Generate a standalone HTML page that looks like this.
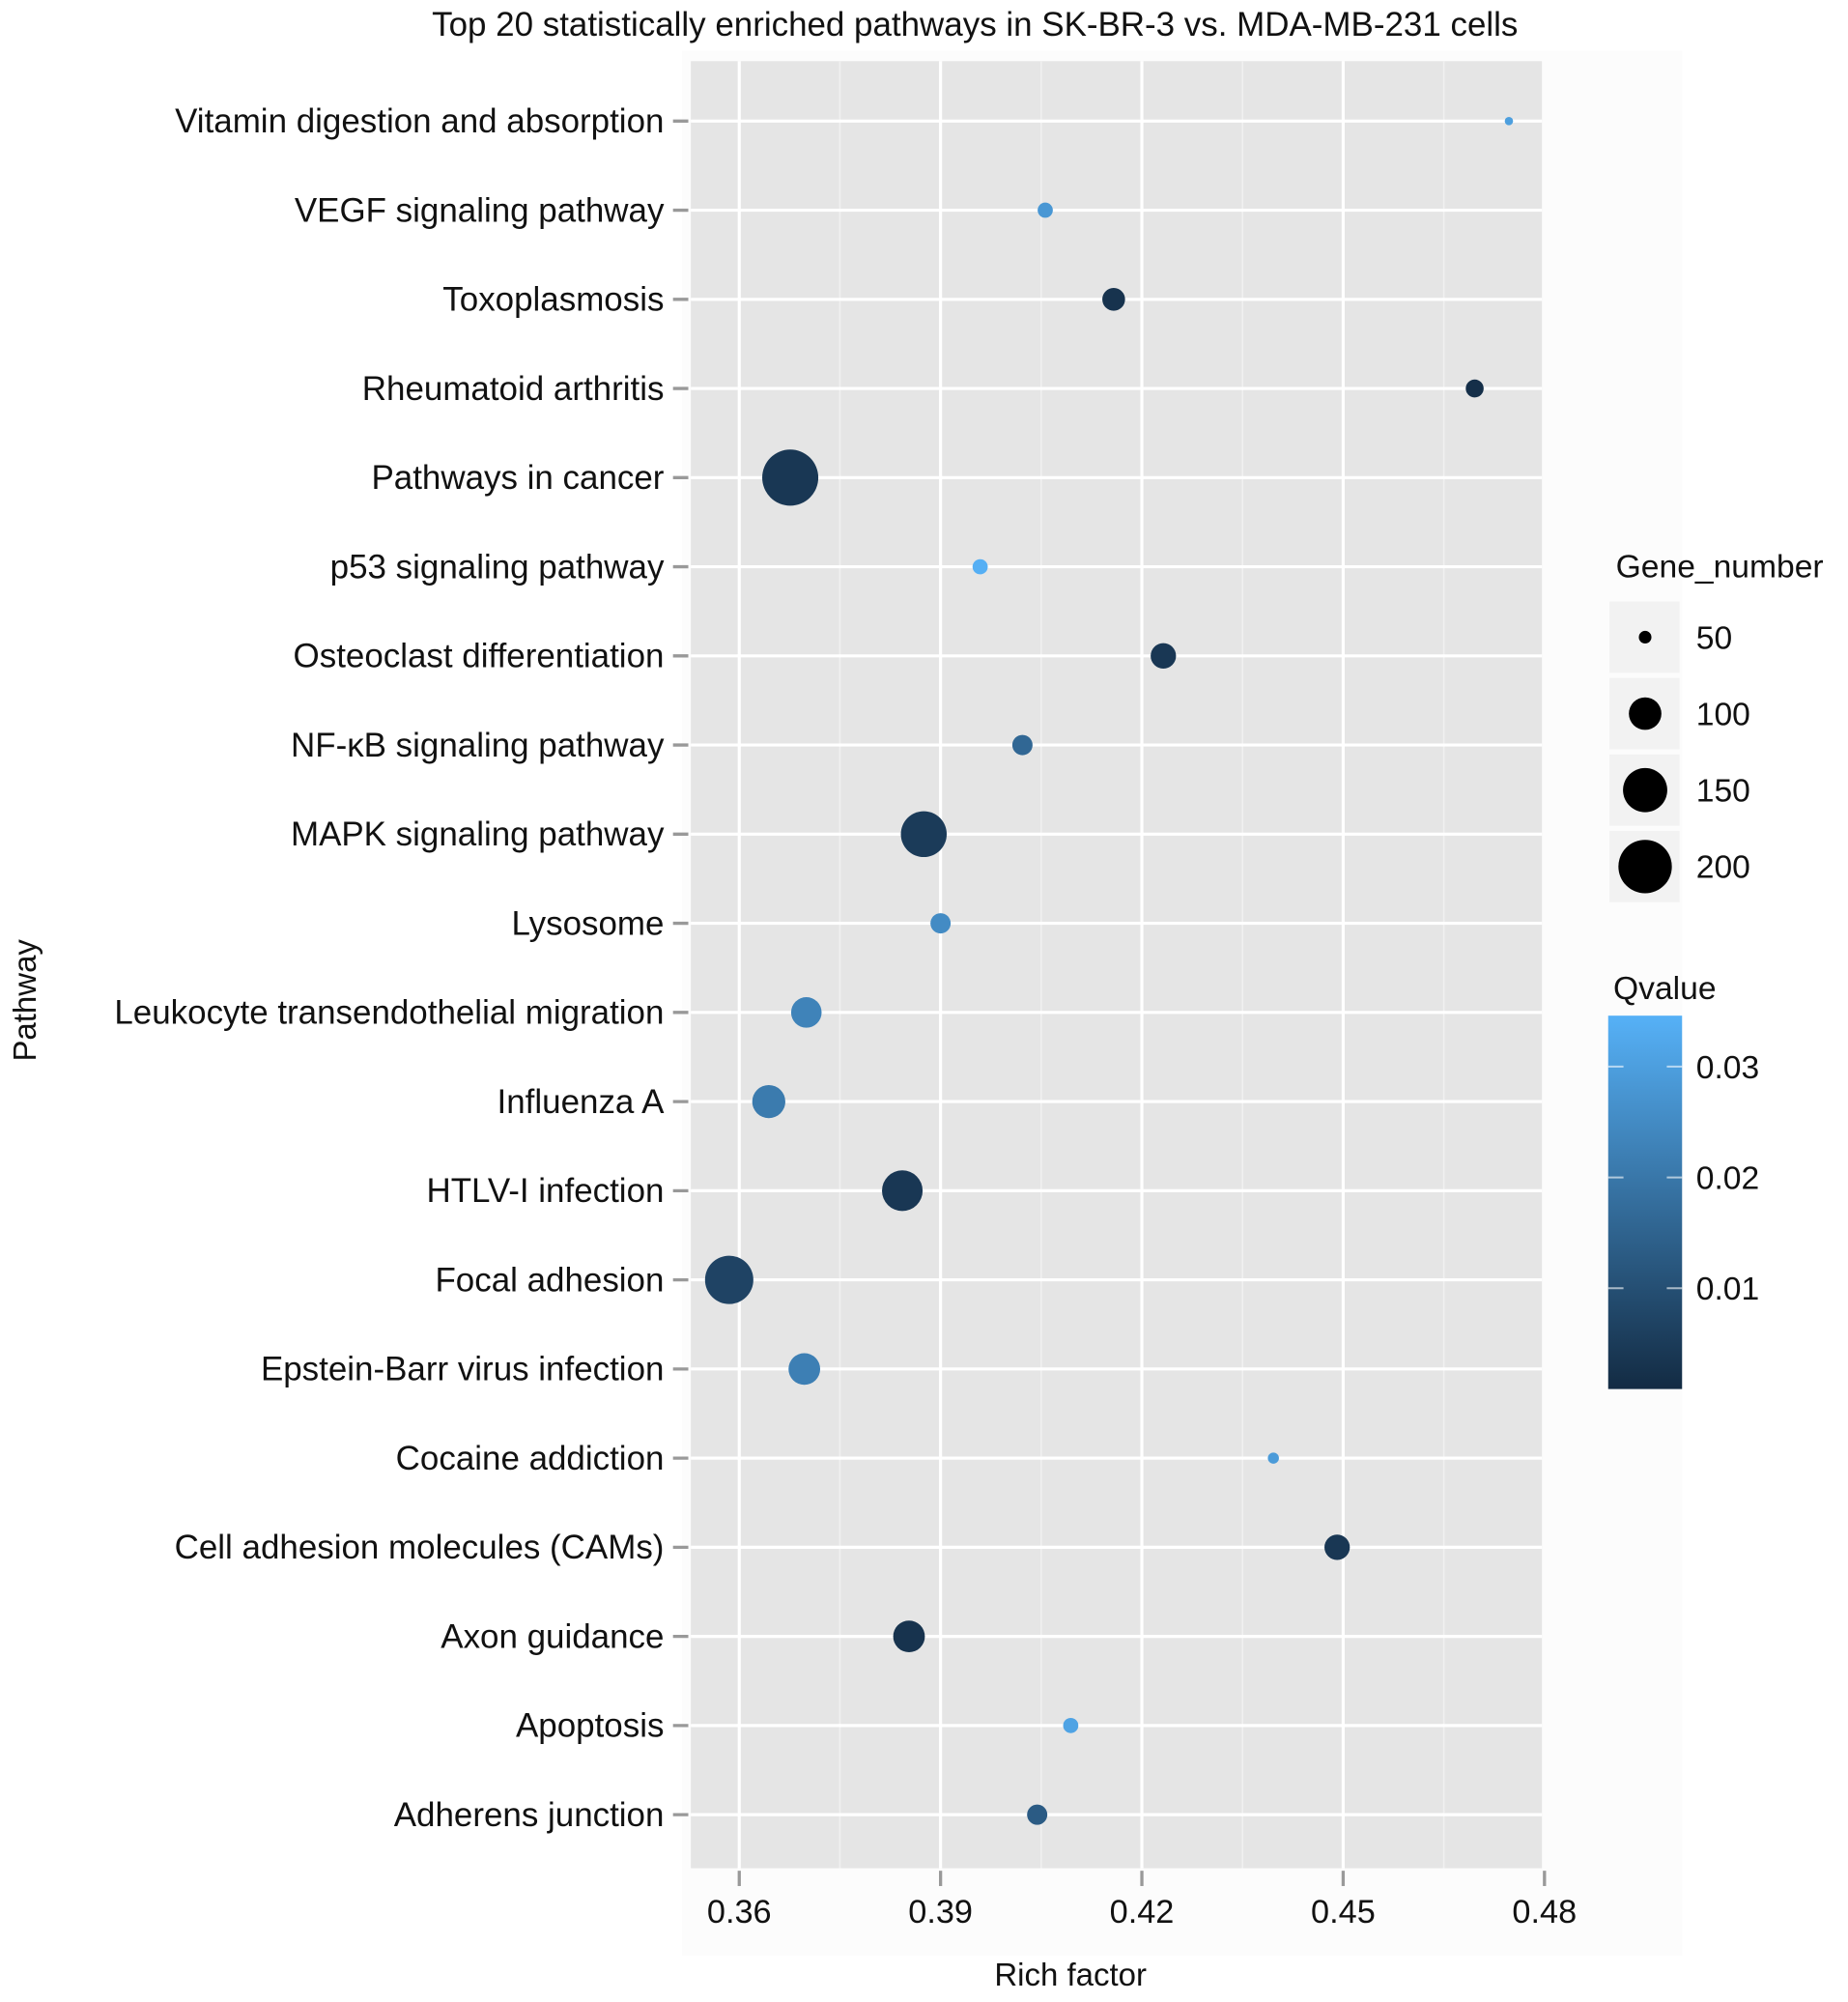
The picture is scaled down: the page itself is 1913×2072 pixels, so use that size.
<!DOCTYPE html>
<html><head><meta charset="utf-8"><style>
html,body{margin:0;padding:0;background:#fff;}
svg{display:block;font-family:"Liberation Sans",Arial,sans-serif;}
</style></head><body>
<svg id="chart" width="1913" height="2072" viewBox="0 0 1450 1571" xmlns="http://www.w3.org/2000/svg">
<rect x="0" y="0" width="1450" height="1571" fill="#ffffff"/>
<rect x="535" y="40" width="785" height="1495" fill="#fcfcfc"/>
<text x="765" y="28" text-anchor="middle" font-size="26.5" fill="#111">Top 20 statistically enriched pathways in SK-BR-3 vs. MDA-MB-231 cells</text>
<rect x="542" y="48" width="668" height="1418" fill="#e5e5e5"/>
<g id="grid"></g>
<g id="yaxis"></g>
<g id="xaxis"></g>
<g id="points"></g>
<text transform="translate(28,785) rotate(-90)" text-anchor="middle" font-size="25" fill="#111">Pathway</text>
<text x="840" y="1558" text-anchor="middle" font-size="25" fill="#111">Rich factor</text>
<g id="legend-size">
<text x="1268" y="453" font-size="25.5" fill="#111">Gene_number</text>
</g>
<g id="legend-color">
<text x="1266" y="784" font-size="25.5" fill="#111">Qvalue</text>
<defs><linearGradient id="qgrad" x1="0" y1="1" x2="0" y2="0"><stop offset="0" stop-color="#132b43"/><stop offset="1" stop-color="#56b1f7"/></linearGradient></defs>
<rect x="1262" y="797" width="58" height="293" fill="url(#qgrad)"/>
</g>
</svg>
<script>
const categories = ["Vitamin digestion and absorption","VEGF signaling pathway","Toxoplasmosis","Rheumatoid arthritis","Pathways in cancer","p53 signaling pathway","Osteoclast differentiation","NF-\u03baB signaling pathway","MAPK signaling pathway","Lysosome","Leukocyte transendothelial migration","Influenza A","HTLV-I infection","Focal adhesion","Epstein-Barr virus infection","Cocaine addiction","Cell adhesion molecules (CAMs)","Axon guidance","Apoptosis","Adherens junction"];
const richFactor = [0.4747,0.4056,0.4158,0.4696,0.3676,0.3959,0.4232,0.4022,0.3875,0.3900,0.3700,0.3644,0.3843,0.3585,0.3697,0.4396,0.4491,0.3853,0.4094,0.4044];
const geneNumber = [45,54,70,59,216,54,77,64,158,64,93,102,133,171,97,48,77,97,54,64];
const qValue = [0.030,0.028,0.003,0.002,0.004,0.034,0.004,0.016,0.005,0.025,0.023,0.021,0.004,0.007,0.022,0.029,0.004,0.003,0.031,0.013];
const xTicks = [0.36,0.39,0.42,0.45,0.48];
const xTickLabels = ["0.36","0.39","0.42","0.45","0.48"];
const sizeLegendValues = [50,100,150,200];
const qLegendTicks = [0.01,0.02,0.03];

const NS="http://www.w3.org/2000/svg";
function mk(tag, attrs, parent){const e=document.createElementNS(NS,tag);for(const k in attrs)e.setAttribute(k,attrs[k]);parent.appendChild(e);return e;}
const X0=0.36, PX0=580, PXper=158/0.03;
function xScale(v){return PX0+(v-X0)*PXper;}
function yScale(i){return 95+i*(1424-95)/(categories.length-1);}
function rScale(g){return Math.sqrt(Math.max(4,2.77*g-114));}
const QMIN=0.0009,QMAX=0.0346;
function qScale(q){return 1090-(q-QMIN)/(QMAX-QMIN)*293;}
function col(q){let t=(q-QMIN)/(QMAX-QMIN);t=Math.max(0,Math.min(1,t));
 const a=[0x13,0x2b,0x43],b=[0x56,0xb1,0xf7];
 return "rgb("+a.map((c,i)=>Math.round(c+(b[i]-c)*t)).join(",")+")";}

const grid=document.getElementById('grid');
for(let i=0;i<xTicks.length-1;i++){
 const m=mk('line',{x1:xScale(xTicks[i]+0.015),x2:xScale(xTicks[i]+0.015),y1:48,y2:1466,stroke:'#f0f0f0','stroke-width':1.2},grid);
 
 
}
xTicks.forEach(t=>{const x=xScale(t);if(x<=1210){
 const l=mk('line',{x1:x,x2:x,y1:48,y2:1466,stroke:'#ffffff','stroke-width':2.4},grid);
 
 }});
categories.forEach((c,i)=>{
 const l=mk('line',{x1:542,x2:1210,y1:yScale(i),y2:yScale(i),stroke:'#ffffff','stroke-width':2.4},grid);
 
 
});

const ya=document.getElementById('yaxis');
categories.forEach((c,i)=>{
 const y=yScale(i);
 const tk=mk('line',{x1:528,x2:540,y1:y,y2:y,stroke:'#999','stroke-width':2.5},ya);
 
 
 const t=mk('text',{x:521,y:y+9,'text-anchor':'end','font-size':26.5,fill:'#111'},ya);
 t.textContent=c;
 
 
});
const xa=document.getElementById('xaxis');
xTicks.forEach((v,i)=>{
 const x=xScale(v);
 const tk=mk('line',{x1:x,x2:x,y1:1468,y2:1480,stroke:'#999','stroke-width':2.5},xa);
 
 
 const t=mk('text',{x:x,y:1509,'text-anchor':'middle','font-size':26,fill:'#111'},xa);
 t.textContent=xTickLabels[i];
 
 
});

const pts=document.getElementById('points');
categories.forEach((c,i)=>{
 const p=mk('circle',{cx:xScale(richFactor[i]),cy:yScale(i),r:rScale(geneNumber[i]),fill:col(qValue[i])},pts);
 
 
});

const ls=document.getElementById('legend-size');
sizeLegendValues.forEach((g,i)=>{
 const cy=500+i*60;
 const bg=mk('rect',{x:1263,y:cy-28,width:55,height:56,fill:'#f2f2f2'},ls);
 
 
 const c=mk('circle',{cx:1291,cy:cy,r:rScale(g),fill:'#000'},ls);
 
 
 const t=mk('text',{x:1331,y:cy+9,'font-size':25.5,fill:'#111'},ls);
 t.textContent=String(g);
 
 
});
const lc=document.getElementById('legend-color');
qLegendTicks.forEach(q=>{
 const y=qScale(q);
 const a=mk('line',{x1:1262,x2:1274,y1:y,y2:y,stroke:'#ffffff','stroke-opacity':0.6,'stroke-width':1.5},lc);
 
 
 const b=mk('line',{x1:1308,x2:1320,y1:y,y2:y,stroke:'#ffffff','stroke-opacity':0.6,'stroke-width':1.5},lc);
 
 
 const t=mk('text',{x:1331,y:y+9,'font-size':25.5,fill:'#111'},lc);
 t.textContent=q.toFixed(2);
 
 
});
</script>
</body></html>
